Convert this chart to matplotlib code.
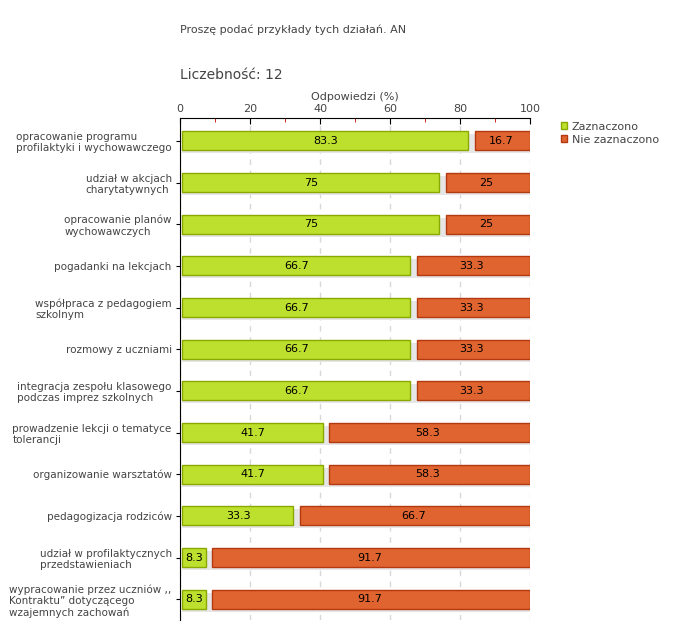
import numpy as np
import matplotlib
matplotlib.use("Agg")
import matplotlib.pyplot as plt
from matplotlib.ticker import MultipleLocator
from matplotlib.patches import Patch

categories = [
    "opracowanie programu\nprofilaktyki i wychowawczego",
    "udział w akcjach\ncharytatywnych",
    "opracowanie planów\nwychowawczych",
    "pogadanki na lekcjach",
    "współpraca z pedagogiem\nszkolnym",
    "rozmowy z uczniami",
    "integracja zespołu klasowego\npodczas imprez szkolnych",
    "prowadzenie lekcji o tematyce\ntolerancji",
    "organizowanie warsztatów",
    "pedagogizacja rodziców",
    "udział w profilaktycznych\nprzedstawieniach",
    "wypracowanie przez uczniów ,,\nKontraktu\u201d dotyczącego\nwzajemnych zachowań",
]
zaznaczono = [83.3, 75, 75, 66.7, 66.7, 66.7, 66.7, 41.7, 41.7, 33.3, 8.3, 8.3]
nie_zaznaczono = [16.7, 25, 25, 33.3, 33.3, 33.3, 33.3, 58.3, 58.3, 66.7, 91.7, 91.7]
series_names = ["Zaznaczono", "Nie zaznaczono"]

GREEN, GREEN_EDGE = "#bde02e", "#8aa800"
ORANGE, ORANGE_EDGE = "#e06430", "#b33a10"
TEXT = "#444444"

fig = plt.figure(figsize=(6.8, 6.4), dpi=100)
ax = fig.add_axes([180 / 680, 1 - 620 / 640, 350 / 680, 502 / 640])

y = np.arange(len(categories))
h = 0.46
gap = 0.9
for yi, a, b in zip(y, zaznaczono, nie_zaznaczono):
    # soft shadow under each bar
    ax.barh(yi + 0.07, 100 - 0.6, left=0.6, height=h, color="#e6e6e6", zorder=1)
    ax.barh(yi, a - gap - 0.6, left=0.6, height=h, color=GREEN,
            edgecolor=GREEN_EDGE, linewidth=1, zorder=3)
    ax.barh(yi, b - gap, left=a + gap, height=h, color=ORANGE,
            edgecolor=ORANGE_EDGE, linewidth=1, zorder=3)
    ax.text(a / 2, yi, f"{a:g}", ha="center", va="center", fontsize=8, color="black", zorder=4)
    ax.text(a + b / 2, yi, f"{b:g}", ha="center", va="center", fontsize=8, color="black", zorder=4)

ax.set_xlim(0, 100)
ax.set_ylim(len(categories) - 0.5, -0.55)
ax.xaxis.tick_top()
ax.xaxis.set_label_position("top")
ax.xaxis.set_major_locator(MultipleLocator(20))
ax.xaxis.set_minor_locator(MultipleLocator(10))
ax.tick_params(axis="x", which="major", direction="in", length=4, color="black",
               labelsize=8, labelcolor=TEXT, pad=3)
ax.tick_params(axis="x", which="minor", direction="in", length=3, color="#cc0000")
ax.set_xlabel("Odpowiedzi (%)", fontsize=8, color=TEXT, labelpad=3)

ax.set_yticks(y)
ax.set_yticklabels(categories, fontsize=7.5, color=TEXT, multialignment="left", linespacing=1.15)
ax.tick_params(axis="y", length=3, color="black", pad=3)

ax.grid(axis="x", which="major", linestyle=(0, (4, 4)), color="#d8d8d8", linewidth=1, zorder=0)
ax.set_axisbelow(True)
for s in ["right", "bottom"]:
    ax.spines[s].set_visible(False)
ax.spines["left"].set_color("black")
ax.spines["top"].set_color("black")

fig.text(180 / 680, 1 - 30 / 640, "Proszę podać przykłady tych działań. AN",
         fontsize=8, color=TEXT, va="center")
fig.text(180 / 680, 1 - 75 / 640, "Liczebność: 12", fontsize=10, color=TEXT, va="center")

handles = [Patch(facecolor=GREEN, edgecolor=GREEN_EDGE), Patch(facecolor=ORANGE, edgecolor=ORANGE_EDGE)]
fig.legend(handles, series_names, loc="upper left", bbox_to_anchor=(555 / 680, 1 - 116 / 640),
           frameon=False, fontsize=8, handlelength=0.6, handleheight=0.6,
           handletextpad=0.4, labelspacing=0.3, borderpad=0, labelcolor=TEXT)

fig.savefig("out.png", dpi=100)
